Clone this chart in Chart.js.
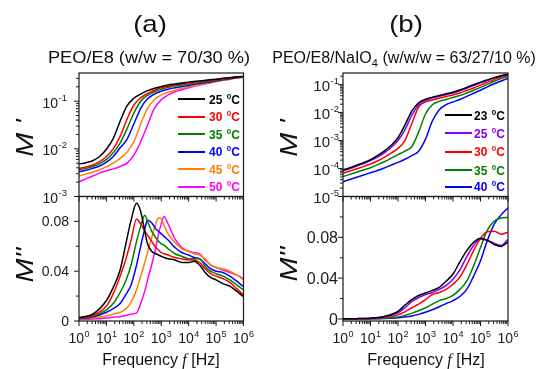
<!DOCTYPE html>
<html>
<head>
<meta charset="utf-8">
<script src="https://cdn.jsdelivr.net/npm/chart.js@4.4.1/dist/chart.umd.min.js"></script>
<style>
  body { margin: 0; background: #fff; }
  #page { position: relative; width: 543px; height: 369px; overflow: hidden; font-family: "Liberation Sans", Arial, sans-serif; color: #111; }
  #page canvas { position: absolute; left: 0; top: 0; }
  .lbl { position: absolute; white-space: nowrap; line-height: 1; transform-origin: center; }
  .ytitle { position: absolute; white-space: nowrap; line-height: 1; font-style: italic; font-size: 24px; transform: translate(-50%, -50%) rotate(-90deg) scaleX(1.2); }
  .leg { position: absolute; font-weight: bold; font-size: 12px; line-height: 1; white-space: nowrap; }
  .leg sup { font-size: 8px; vertical-align: 0; position: relative; top: -5px; margin-left: 1px; }
  .swatch { position: absolute; height: 2px; }
</style>
</head>
<body>
<div id="page">
  <canvas id="aTop" width="543" height="369"></canvas>
  <canvas id="aBot" width="543" height="369"></canvas>
  <canvas id="bTop" width="543" height="369"></canvas>
  <canvas id="bBot" width="543" height="369"></canvas>

  <div class="lbl" style="left:150px; top:12px; font-size:24px; transform:translateX(-50%) scaleX(1.15);">(a)</div>
  <div class="lbl" style="left:406px; top:12px; font-size:24px; transform:translateX(-50%) scaleX(1.15);">(b)</div>
  <div class="lbl" style="left:149px; top:50px; font-size:16px; transform:translateX(-50%) scaleX(1.14);">PEO/E8 (w/w = 70/30 %)</div>
  <div class="lbl" style="left:404px; top:50px; font-size:16px; transform:translateX(-50%);">PEO/E8/NaIO<span style="font-size:11px; position:relative; top:4px;">4</span> (w/w/w = 63/27/10 %)</div>

  <div class="ytitle" style="left:25px; top:138px;">M&nbsp;'</div>
  <div class="ytitle" style="left:25px; top:265px;">M''</div>
  <div class="ytitle" style="left:289px; top:138px;">M&nbsp;'</div>
  <div class="ytitle" style="left:289px; top:264px;">M''</div>

  <div class="lbl" style="left:161px; top:352px; font-size:16px; transform:translateX(-50%);">Frequency <i style="font-family:'Liberation Serif', serif;">f</i> [Hz]</div>
  <div class="lbl" style="left:426px; top:352px; font-size:16px; transform:translateX(-50%);">Frequency <i style="font-family:'Liberation Serif', serif;">f</i> [Hz]</div>
</div>

<script>
// frequency grids (log10 of f in Hz)
const decTop = [0, 0.25, 0.5, 0.75, 1, 1.25, 1.5, 1.75, 2, 2.25, 2.5, 2.75, 3, 3.25, 3.5, 3.75, 4, 4.25, 4.5, 4.75, 5, 5.25, 5.5, 5.75, 6];
const decBotA = [0, 0.5, 1, 1.25, 1.5, 1.7, 1.9, 2.1, 2.25, 2.4, 2.5, 2.65, 2.8, 2.9, 3, 3.1, 3.25, 3.5, 3.75, 4, 4.2, 4.4, 4.6, 4.8, 5, 5.25, 5.5, 5.75, 6];
const decBotB = [0, 0.5, 1, 1.5, 2, 2.25, 2.5, 2.75, 3, 3.25, 3.5, 3.75, 4, 4.25, 4.5, 4.75, 5, 5.25, 5.5, 5.75, 6];

// legends
const tempsA = ['25', '30', '35', '40', '45', '50'];
const colorsA = ['#000000', '#ff0000', '#008000', '#0000ff', '#ff8000', '#ff00ff'];
const tempsB = ['23', '25', '30', '35', '40'];
const colorsB = ['#000000', '#8000ff', '#ff0000', '#008000', '#0000ff'];

// (a) M' PEO/E8
const mAT25 = [4.79e-3, 5.13e-3, 5.62e-3, 6.92e-3, 9.77e-3, 1.66e-2, 3.8e-2, 7.94e-2, 0.115, 0.141, 0.166, 0.186, 0.204, 0.219, 0.229, 0.24, 0.251, 0.263, 0.269, 0.282, 0.288, 0.302, 0.309, 0.324, 0.331];
const mAT30 = [3.89e-3, 4.17e-3, 4.57e-3, 5.37e-3, 6.92e-3, 1.0e-2, 1.82e-2, 4.17e-2, 8.32e-2, 0.117, 0.145, 0.17, 0.191, 0.204, 0.219, 0.229, 0.24, 0.251, 0.263, 0.275, 0.282, 0.295, 0.309, 0.316, 0.331];
const mAT35 = [3.63e-3, 3.89e-3, 4.27e-3, 4.9e-3, 6.03e-3, 8.32e-3, 1.32e-2, 2.63e-2, 5.62e-2, 0.1, 0.132, 0.158, 0.178, 0.195, 0.209, 0.219, 0.229, 0.24, 0.251, 0.263, 0.275, 0.288, 0.302, 0.316, 0.324];
const mAT40 = [3.31e-3, 3.55e-3, 3.89e-3, 4.37e-3, 5.25e-3, 6.92e-3, 1.05e-2, 1.58e-2, 3.31e-2, 7.08e-2, 0.112, 0.141, 0.162, 0.178, 0.191, 0.204, 0.214, 0.229, 0.24, 0.251, 0.269, 0.282, 0.295, 0.309, 0.324];
const mAT45 = [2.69e-3, 2.95e-3, 3.24e-3, 3.63e-3, 4.17e-3, 5.01e-3, 6.31e-3, 8.51e-3, 1.41e-2, 3.31e-2, 7.08e-2, 0.107, 0.135, 0.155, 0.17, 0.186, 0.2, 0.214, 0.229, 0.245, 0.257, 0.275, 0.288, 0.309, 0.316];
const mAT50 = [2.04e-3, 2.34e-3, 2.69e-3, 3.09e-3, 3.47e-3, 3.8e-3, 4.27e-3, 5.01e-3, 7.41e-3, 1.41e-2, 3.16e-2, 7.08e-2, 0.107, 0.135, 0.158, 0.174, 0.191, 0.209, 0.224, 0.24, 0.257, 0.275, 0.288, 0.309, 0.316];

// (a) M'' PEO/E8
const mAB25 = [0.0027, 0.0055, 0.0165, 0.027, 0.041, 0.061, 0.081, 0.0945, 0.088, 0.072, 0.062, 0.056, 0.054, 0.053, 0.052, 0.051, 0.050, 0.049, 0.047, 0.047, 0.048, 0.045, 0.039, 0.035, 0.033, 0.030, 0.028, 0.024, 0.0195];
const mAB30 = [0.0025, 0.0045, 0.012, 0.022, 0.036, 0.049, 0.065, 0.082, 0.078, 0.072, 0.069, 0.064, 0.059, 0.057, 0.055, 0.054, 0.053, 0.051, 0.050, 0.049, 0.049, 0.047, 0.042, 0.038, 0.036, 0.034, 0.031, 0.026, 0.021];
const mAB35 = [0.0022, 0.0038, 0.009, 0.014, 0.023, 0.032, 0.045, 0.064, 0.076, 0.085, 0.080, 0.072, 0.067, 0.064, 0.062, 0.061, 0.058, 0.054, 0.052, 0.050, 0.050, 0.050, 0.044, 0.040, 0.038, 0.036, 0.033, 0.029, 0.025];
const mAB40 = [0.0018, 0.0032, 0.007, 0.010, 0.014, 0.021, 0.029, 0.045, 0.060, 0.074, 0.081, 0.079, 0.074, 0.072, 0.070, 0.068, 0.065, 0.059, 0.055, 0.053, 0.051, 0.050, 0.046, 0.042, 0.040, 0.039, 0.036, 0.032, 0.0275];
const mAB45 = [0.0015, 0.0025, 0.004, 0.0055, 0.007, 0.0095, 0.015, 0.025, 0.036, 0.047, 0.055, 0.067, 0.078, 0.083, 0.082, 0.077, 0.070, 0.063, 0.058, 0.056, 0.054, 0.053, 0.050, 0.045, 0.043, 0.042, 0.040, 0.037, 0.033];
const mAB50 = [0.0012, 0.0016, 0.0025, 0.003, 0.0035, 0.0045, 0.0055, 0.0065, 0.014, 0.024, 0.033, 0.045, 0.059, 0.070, 0.078, 0.084, 0.078, 0.066, 0.059, 0.056, 0.055, 0.054, 0.049, 0.045, 0.043, 0.041, 0.039, 0.037, 0.034];

// (b) M' PEO/E8/NaIO4
const mBT23 = [8.9e-5, 1.07e-4, 1.32e-4, 1.62e-4, 2.09e-4, 2.88e-4, 4.17e-4, 6.76e-4, 1.26e-3, 3.55e-3, 1.12e-2, 2.24e-2, 3.02e-2, 3.55e-2, 4.07e-2, 4.68e-2, 5.37e-2, 6.46e-2, 7.94e-2, 0.100, 0.123, 0.148, 0.178, 0.209, 0.234];
const mBT25 = [8.3e-5, 1.0e-4, 1.23e-4, 1.51e-4, 1.91e-4, 2.57e-4, 3.63e-4, 5.62e-4, 1.0e-3, 2.4e-3, 7.94e-3, 1.91e-2, 2.75e-2, 3.31e-2, 3.8e-2, 4.37e-2, 5.01e-2, 6.03e-2, 7.41e-2, 9.33e-2, 0.115, 0.141, 0.174, 0.204, 0.229];
const mBT30 = [6.76e-5, 8.13e-5, 9.77e-5, 1.17e-4, 1.45e-4, 1.86e-4, 2.51e-4, 3.55e-4, 5.25e-4, 1.0e-3, 3.98e-3, 1.58e-2, 2.4e-2, 2.82e-2, 3.24e-2, 3.72e-2, 4.27e-2, 5.01e-2, 6.17e-2, 7.59e-2, 9.55e-2, 0.120, 0.151, 0.186, 0.214];
const mBT35 = [5.13e-5, 6.17e-5, 7.41e-5, 8.91e-5, 1.07e-4, 1.35e-4, 1.74e-4, 2.34e-4, 3.16e-4, 4.17e-4, 6.03e-4, 2.0e-3, 8.91e-3, 1.91e-2, 2.51e-2, 2.95e-2, 3.47e-2, 4.07e-2, 5.01e-2, 6.31e-2, 7.94e-2, 0.102, 0.132, 0.166, 0.195];
const mBT40 = [3.39e-5, 4.07e-5, 4.9e-5, 5.89e-5, 7.08e-5, 8.51e-5, 1.05e-4, 1.32e-4, 1.66e-4, 2.14e-4, 2.88e-4, 4.17e-4, 1.12e-3, 5.01e-3, 1.26e-2, 1.91e-2, 2.4e-2, 2.95e-2, 3.8e-2, 4.9e-2, 6.31e-2, 8.32e-2, 0.107, 0.135, 0.166];

// (b) M'' PEO/E8/NaIO4
const mBB23 = [0.0002, 0.0003, 0.0008, 0.0025, 0.0075, 0.0135, 0.019, 0.023, 0.0255, 0.028, 0.031, 0.037, 0.044, 0.056, 0.067, 0.075, 0.079, 0.077, 0.073, 0.071, 0.0755];
const mBB25 = [0.0002, 0.0003, 0.0007, 0.002, 0.006, 0.011, 0.017, 0.021, 0.024, 0.026, 0.029, 0.033, 0.039, 0.048, 0.061, 0.072, 0.078, 0.077, 0.074, 0.072, 0.078];
const mBB30 = [0.0002, 0.0002, 0.0005, 0.0014, 0.004, 0.007, 0.011, 0.0145, 0.019, 0.024, 0.026, 0.029, 0.034, 0.041, 0.053, 0.067, 0.079, 0.0855, 0.086, 0.083, 0.085];
const mBB35 = [0.0001, 0.0002, 0.0003, 0.0008, 0.002, 0.0035, 0.0055, 0.008, 0.011, 0.0145, 0.018, 0.020, 0.023, 0.029, 0.037, 0.052, 0.070, 0.087, 0.096, 0.099, 0.0995];
const mBB40 = [0.0001, 0.0001, 0.0002, 0.0005, 0.0012, 0.002, 0.003, 0.0045, 0.0065, 0.009, 0.012, 0.015, 0.018, 0.022, 0.029, 0.042, 0.057, 0.077, 0.093, 0.102, 0.109];

// tick labels
const xExps = [0, 1, 2, 3, 4, 5, 6];
const yExpsA = [-3, -2, -1];
const yExpsB = [-5, -4, -3, -2, -1];
const yLinTicks = [0, 0.04, 0.08];
const yLinMinor = [0.02, 0.06, 0.1];

const FONT = '"Liberation Sans", Arial, sans-serif';

function powLabel(ctx, base, exp, x, y, align, size, supSize, supRise) {
  ctx.font = size + 'px ' + FONT;
  const wb = ctx.measureText(base).width;
  ctx.font = supSize + 'px ' + FONT;
  const ws = exp ? ctx.measureText(exp).width + 0.5 : 0;
  const w = wb + ws;
  const x0 = align === 'right' ? x - w : x - w / 2;
  ctx.font = size + 'px ' + FONT;
  ctx.fillText(base, x0, y);
  if (exp) {
    ctx.font = supSize + 'px ' + FONT;
    ctx.fillText(exp, x0 + wb + 0.5, y - supRise);
  }
}

// frame, outward ticks and tick labels, all placed through the chart scales
const axesPlugin = {
  id: 'axes',
  afterDatasetsDraw(chart, args, o) {
    const { ctx, chartArea: a, scales: { x, y } } = chart;
    ctx.save();
    ctx.strokeStyle = '#1a1a1a';
    ctx.lineWidth = 1.2;
    ctx.strokeRect(a.left, a.top, a.right - a.left, a.bottom - a.top);
    ctx.lineWidth = 1;
    ctx.beginPath();
    xExps.forEach(e => {
      for (let m = 1; m <= 9; m++) {
        const v = m * Math.pow(10, e);
        if (v > x.max) break;
        const px = x.getPixelForValue(v);
        ctx.moveTo(px, a.bottom);
        ctx.lineTo(px, a.bottom + (m === 1 ? 5 : 3));
      }
    });
    if (o.log) {
      for (let e = Math.floor(Math.log10(y.min)); e <= 0; e++) {
        for (let m = 1; m <= 9; m++) {
          const v = m * Math.pow(10, e);
          if (v < y.min * 0.999 || v > y.max) continue;
          const py = y.getPixelForValue(v);
          ctx.moveTo(a.left, py);
          ctx.lineTo(a.left - (m === 1 ? 5 : 3), py);
        }
      }
    } else {
      yLinTicks.forEach(v => { const py = y.getPixelForValue(v); ctx.moveTo(a.left, py); ctx.lineTo(a.left - 5, py); });
      yLinMinor.forEach(v => { const py = y.getPixelForValue(v); ctx.moveTo(a.left, py); ctx.lineTo(a.left - 3, py); });
    }
    ctx.stroke();

    ctx.fillStyle = '#1a1a1a';
    ctx.textBaseline = 'alphabetic';
    if (o.xLabels) {
      xExps.forEach(e => {
        powLabel(ctx, '10', String(e), x.getPixelForValue(Math.pow(10, e)), a.bottom + 22, 'center', 14, 9, 6.5);
      });
    }
    if (o.log) {
      o.yExps.forEach(e => {
        powLabel(ctx, '10', String(e), o.labelRight, y.getPixelForValue(Math.pow(10, e)) + 6.5, 'right', o.ySize, 9.5, 7);
      });
    } else {
      yLinTicks.forEach(v => {
        powLabel(ctx, String(v), '', o.labelRight, y.getPixelForValue(v) + o.ySize * 0.36, 'right', o.ySize, 9, 0);
      });
    }
    ctx.restore();
  }
};

function makePanel(id, dec, series, colors, names, pad, yScale, axes) {
  new Chart(document.getElementById(id), {
    type: 'line',
    data: {
      datasets: series.map((vals, i) => ({
        label: names[i],
        data: dec.map((d, k) => ({ x: Math.pow(10, d), y: vals[k] })),
        borderColor: colors[i],
        borderWidth: 1.5,
        pointRadius: 0,
        fill: false,
        cubicInterpolationMode: 'monotone'
      }))
    },
    options: {
      responsive: false,
      animation: false,
      layout: { padding: pad },
      scales: {
        x: { type: 'logarithmic', min: 1, max: 1e6, display: false },
        y: Object.assign({ display: false }, yScale)
      },
      plugins: { legend: { display: false }, tooltip: { enabled: false }, axes: axes }
    },
    plugins: [axesPlugin]
  });
}

makePanel('aTop', decTop, [mAT25, mAT30, mAT35, mAT40, mAT45, mAT50], colorsA, tempsA,
  { left: 79, right: 299.5, top: 73, bottom: 172.5 },
  { type: 'logarithmic', min: 1e-3, max: 0.39 },
  { log: true, yExps: yExpsA, labelRight: 67, ySize: 14, xLabels: false });

makePanel('aBot', decBotA, [mAB25, mAB30, mAB35, mAB40, mAB45, mAB50], colorsA, tempsA,
  { left: 79, right: 299.5, top: 196.5, bottom: 48 },
  { type: 'linear', min: 0, max: 0.1 },
  { log: false, labelRight: 69, ySize: 14, xLabels: true });

makePanel('bTop', decTop, [mBT23, mBT25, mBT30, mBT35, mBT40], colorsB, tempsB,
  { left: 343, right: 35, top: 73, bottom: 172.5 },
  { type: 'logarithmic', min: 1e-5, max: 0.26 },
  { log: true, yExps: yExpsB, labelRight: 339, ySize: 15, xLabels: false });

makePanel('bBot', decBotB, [mBB23, mBB25, mBB30, mBB35, mBB40], colorsB, tempsB,
  { left: 343, right: 35, top: 196.5, bottom: 48 },
  { type: 'linear', min: -0.002, max: 0.12 },
  { log: false, labelRight: 338, ySize: 16, xLabels: true });

// legends
function legend(temps, colors, rows, lineX, lineW, textX) {
  const page = document.getElementById('page');
  temps.forEach((t, i) => {
    const sw = document.createElement('div');
    sw.className = 'swatch';
    sw.style.cssText = 'left:' + lineX + 'px; top:' + (rows[i] - 1) + 'px; width:' + lineW + 'px; background:' + colors[i] + ';';
    page.appendChild(sw);
    const tx = document.createElement('div');
    tx.className = 'leg';
    tx.style.cssText = 'left:' + textX + 'px; top:' + (rows[i] - 5.5) + 'px; color:' + colors[i] + ';';
    tx.innerHTML = t + ' <sup>0</sup>C';
    page.appendChild(tx);
  });
}
legend(tempsA, colorsA, [99, 116.5, 134, 151.5, 169, 186.5], 178, 27, 209);
legend(tempsB, colorsB, [115, 133.3, 151.7, 170, 186.7], 445, 27, 474);
</script>
</body>
</html>
